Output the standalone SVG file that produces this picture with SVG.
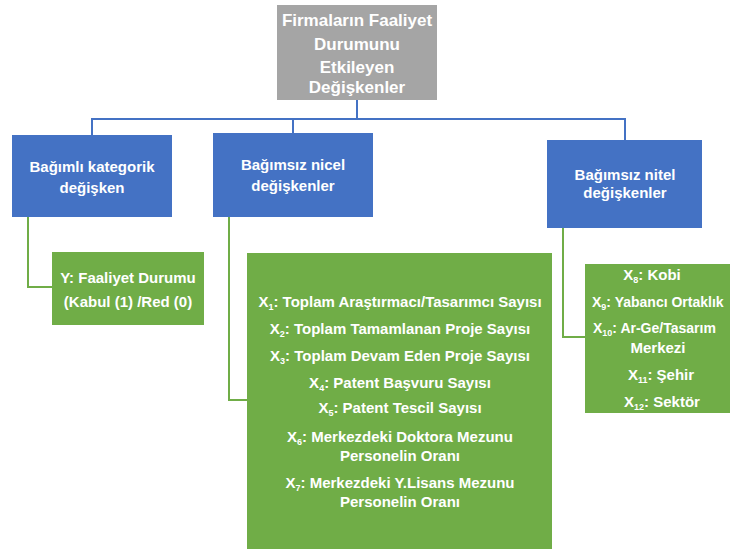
<svg xmlns="http://www.w3.org/2000/svg" width="730" height="549" viewBox="0 0 730 549">
  <style>
    .title { fill: #a5a5a5; }
    .cat { fill: #4472c4; }
    .var { fill: #70ad47; }
    text { font-family: "Liberation Sans", Arial, sans-serif; font-weight: bold; fill: #ffffff; text-anchor: middle; }
    .t17 { font-size: 17px; }
    .t15 { font-size: 15px; }
    .t14 { font-size: 14px; }
    .sub { font-size: 9px; }
    .start { text-anchor: start; }
    .blue-line { fill: none; stroke: #4472c4; stroke-width: 2; }
    .green-line { fill: none; stroke: #70ad47; stroke-width: 2; }
  </style>
  <rect width="730" height="549" fill="#ffffff"/>

  <g id="connectors">
    <path class="blue-line" d="M357 100 V119 M92 135 V119 H625 V140 M293 119 V133"/>
    <path class="green-line" d="M28 217 V287 H52"/>
    <path class="green-line" d="M229 217 V400 H247"/>
    <path class="green-line" d="M563 228 V337 H585"/>
  </g>

  <g id="root">
    <rect class="title" x="277" y="5" width="160" height="95"/>
    <text class="t17" x="357" y="26">Firmaların Faaliyet</text>
    <text class="t17" x="357" y="50">Durumunu</text>
    <text class="t17" x="357" y="73">Etkileyen</text>
    <text class="t17" x="357" y="93">Değişkenler</text>
  </g>

  <g id="dependent-categorical">
    <rect class="cat" x="12" y="135" width="160" height="82"/>
    <text class="t15" x="92" y="172">Bağımlı kategorik</text>
    <text class="t15" x="92" y="193">değişken</text>
  </g>

  <g id="independent-quantitative">
    <rect class="cat" x="213" y="133" width="160" height="84"/>
    <text class="t15" x="293" y="170">Bağımsız nicel</text>
    <text class="t15" x="293" y="191">değişkenler</text>
  </g>

  <g id="independent-qualitative">
    <rect class="cat" x="547" y="140" width="155" height="88"/>
    <text class="t15" x="625" y="180">Bağımsız nitel</text>
    <text class="t15" x="625" y="198">değişkenler</text>
  </g>

  <g id="y-outcome">
    <rect class="var" x="52" y="252" width="152" height="73"/>
    <text class="t15" x="128" y="283">Y: Faaliyet Durumu</text>
    <text class="t15" x="128" y="307">(Kabul (1) /Red (0)</text>
  </g>

  <g id="quantitative-list">
    <rect class="var" x="247" y="253" width="305" height="300"/>
    <text class="t15" x="400" y="307">X<tspan class="sub" dy="3">1</tspan><tspan dy="-3">: Toplam Araştırmacı/Tasarımcı Sayısı</tspan></text>
    <text class="t15" x="400" y="334">X<tspan class="sub" dy="3">2</tspan><tspan dy="-3">: Toplam Tamamlanan Proje Sayısı</tspan></text>
    <text class="t15" x="400" y="361">X<tspan class="sub" dy="3">3</tspan><tspan dy="-3">: Toplam Devam Eden Proje Sayısı</tspan></text>
    <text class="t15" x="400" y="388">X<tspan class="sub" dy="3">4</tspan><tspan dy="-3">: Patent Başvuru Sayısı</tspan></text>
    <text class="t15" x="400" y="413">X<tspan class="sub" dy="3">5</tspan><tspan dy="-3">: Patent Tescil Sayısı</tspan></text>
    <text class="t15" x="400" y="442">X<tspan class="sub" dy="3">6</tspan><tspan dy="-3">: Merkezdeki Doktora Mezunu</tspan></text>
    <text class="t15" x="400" y="461">Personelin Oranı</text>
    <text class="t15" x="400" y="488">X<tspan class="sub" dy="3">7</tspan><tspan dy="-3">: Merkezdeki Y.Lisans Mezunu</tspan></text>
    <text class="t15" x="400" y="507">Personelin Oranı</text>
  </g>

  <g id="qualitative-list">
    <rect class="var" x="585" y="264" width="150" height="149"/>
    <text class="t15" x="652" y="280">X<tspan class="sub" dy="3">8</tspan><tspan dy="-3">: Kobi</tspan></text>
    <text class="t14 start" x="592" y="307">X<tspan class="sub" dy="3">9</tspan><tspan dy="-3">: Yabancı Ortaklık</tspan></text>
    <text class="t14 start" x="593" y="333">X<tspan class="sub" dy="3">10</tspan><tspan dy="-3">: Ar-Ge/Tasarım</tspan></text>
    <text class="t15" x="658" y="353">Merkezi</text>
    <text class="t15" x="661" y="380">X<tspan class="sub" dy="3">11</tspan><tspan dy="-3">: Şehir</tspan></text>
    <text class="t15" x="662" y="407">X<tspan class="sub" dy="3">12</tspan><tspan dy="-3">: Sektör</tspan></text>
  </g>
</svg>
